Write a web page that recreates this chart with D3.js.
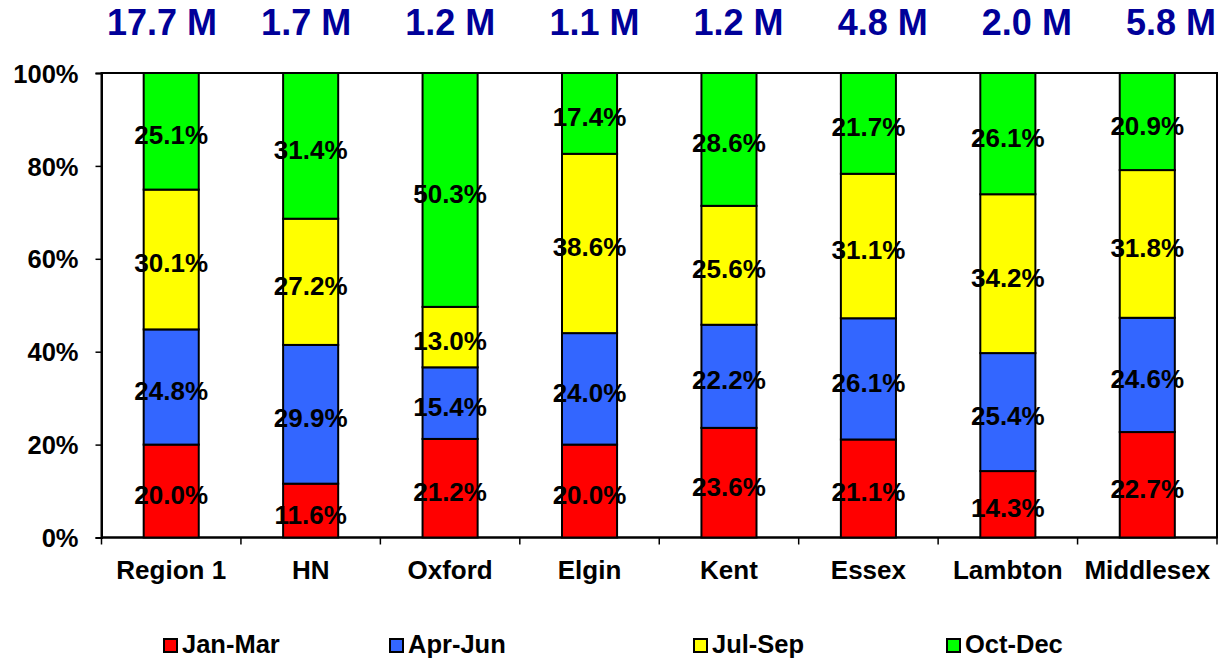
<!DOCTYPE html>
<html>
<head>
<meta charset="utf-8">
<script src="https://cdn.jsdelivr.net/npm/d3@7/dist/d3.min.js"></script>
<style>
  html, body { margin: 0; padding: 0; background: #fff; }
  svg { display: block; font-family: "Liberation Sans", Arial, sans-serif; font-weight: bold; }
</style>
</head>
<body>
<svg id="chart" width="1218" height="661"></svg>
<script>
// Regions and their annual totals
const regions = ["Region 1", "HN", "Oxford", "Elgin", "Kent", "Essex", "Lambton", "Middlesex"];
const totals = ["17.7 M", "1.7 M", "1.2 M", "1.1 M", "1.2 M", "4.8 M", "2.0 M", "5.8 M"];

// Quarterly shares (%) per region
const quarters = ["Jan-Mar", "Apr-Jun", "Jul-Sep", "Oct-Dec"];
const janMar = [20.0, 11.6, 21.2, 20.0, 23.6, 21.1, 14.3, 22.7];
const aprJun = [24.8, 29.9, 15.4, 24.0, 22.2, 26.1, 25.4, 24.6];
const julSep = [30.1, 27.2, 13.0, 38.6, 25.6, 31.1, 34.2, 31.8];
const octDec = [25.1, 31.4, 50.3, 17.4, 28.6, 21.7, 26.1, 20.9];

const yTicks = [0, 0.2, 0.4, 0.6, 0.8, 1.0];
const colors = ["#FF0000", "#3366FF", "#FFFF00", "#00FF00"];

const rows = regions.map((r, i) => ({
  region: r,
  "Jan-Mar": janMar[i],
  "Apr-Jun": aprJun[i],
  "Jul-Sep": julSep[i],
  "Oct-Dec": octDec[i]
}));

const svg = d3.select("#chart");
const plot = { left: 101.5, right: 1217, top: 73, bottom: 537.5 };

const x = d3.scaleBand().domain(regions).range([plot.left, plot.right]).paddingInner(0.605).paddingOuter(0.3025);
const xCat = d3.scaleBand().domain(regions).range([plot.left, plot.right]);
const y = d3.scaleLinear().domain([0, 1]).range([plot.bottom, plot.top]);
const color = d3.scaleOrdinal().domain(quarters).range(colors);

const stack = d3.stack().keys(quarters).offset(d3.stackOffsetExpand);
const series = stack(rows);

// Plot frame
svg.append("rect")
  .attr("x", plot.left).attr("y", plot.top)
  .attr("width", plot.right - plot.left).attr("height", plot.bottom - plot.top)
  .attr("fill", "#fff").attr("stroke", "#000").attr("stroke-width", 2);

// Y axis
const yAxis = d3.axisLeft(y).tickValues(yTicks).tickFormat(d3.format(".0%")).tickSize(6).tickPadding(17);
const gy = svg.append("g").attr("transform", `translate(${plot.left},0)`).call(yAxis);
gy.select(".domain").attr("stroke", "#000").attr("stroke-width", 2);
gy.selectAll(".tick line").attr("stroke", "#000").attr("stroke-width", 1.5);
gy.selectAll(".tick text").attr("font-size", 25.5).attr("font-weight", "bold")
  .attr("font-family", "'Liberation Sans', Arial, sans-serif").attr("fill", "#000").attr("dy", "0.36em");

// X axis with category dividers
const gx = svg.append("g").attr("transform", `translate(0,${plot.bottom})`);
gx.append("line").attr("x1", plot.left).attr("x2", plot.right).attr("stroke", "#000").attr("stroke-width", 2);
gx.selectAll("line.div")
  .data(regions.concat(["__end"]))
  .join("line")
  .attr("class", "div")
  .attr("x1", (d, i) => i < regions.length ? xCat(d) : plot.right)
  .attr("x2", (d, i) => i < regions.length ? xCat(d) : plot.right)
  .attr("y1", 0).attr("y2", 7)
  .attr("stroke", "#000").attr("stroke-width", 1.5);
gx.selectAll("text.cat")
  .data(regions)
  .join("text")
  .attr("class", "cat")
  .attr("x", d => xCat(d) + xCat.bandwidth() / 2)
  .attr("y", 41)
  .attr("text-anchor", "middle")
  .attr("font-size", 26)
  .text(d => d);

// Stacked bars
const layers = svg.append("g").selectAll("g.layer")
  .data(series)
  .join("g")
  .attr("class", "layer")
  .attr("fill", d => color(d.key));

layers.selectAll("rect")
  .data(d => d)
  .join("rect")
  .attr("x", d => x(d.data.region))
  .attr("width", x.bandwidth())
  .attr("y", d => y(d[1]))
  .attr("height", d => y(d[0]) - y(d[1]))
  .attr("stroke", "#000")
  .attr("stroke-width", 2);

// Segment value labels
const labels = svg.append("g");
series.forEach(s => {
  labels.selectAll(null)
    .data(s)
    .join("text")
    .attr("x", d => x(d.data.region) + x.bandwidth() / 2)
    .attr("y", d => y((d[0] + d[1]) / 2) + 13)
    .attr("text-anchor", "middle")
    .attr("font-size", 26)
    .attr("fill", "#000")
    .text(d => d3.format(".1f")(d.data[s.key]) + "%");
});

// Regional totals above the bars
const xTot = d3.scalePoint().domain(regions).range([162, 1171]);
svg.append("g").selectAll("text")
  .data(regions)
  .join("text")
  .attr("x", d => xTot(d))
  .attr("y", 35)
  .attr("text-anchor", "middle")
  .attr("font-size", 36)
  .attr("fill", "#000099")
  .text((d, i) => totals[i]);

// Legend
const legendX = [163, 389, 693, 946];
const legend = svg.append("g").attr("transform", "translate(0,638)");
const item = legend.selectAll("g")
  .data(quarters)
  .join("g")
  .attr("transform", (d, i) => `translate(${legendX[i]},0)`);
item.append("rect")
  .attr("x", 1).attr("y", 1).attr("width", 13).attr("height", 13)
  .attr("fill", d => color(d)).attr("stroke", "#000").attr("stroke-width", 2);
item.append("text")
  .attr("x", 19).attr("y", 15)
  .attr("font-size", 25.5)
  .text(d => d);
</script>
</body>
</html>
